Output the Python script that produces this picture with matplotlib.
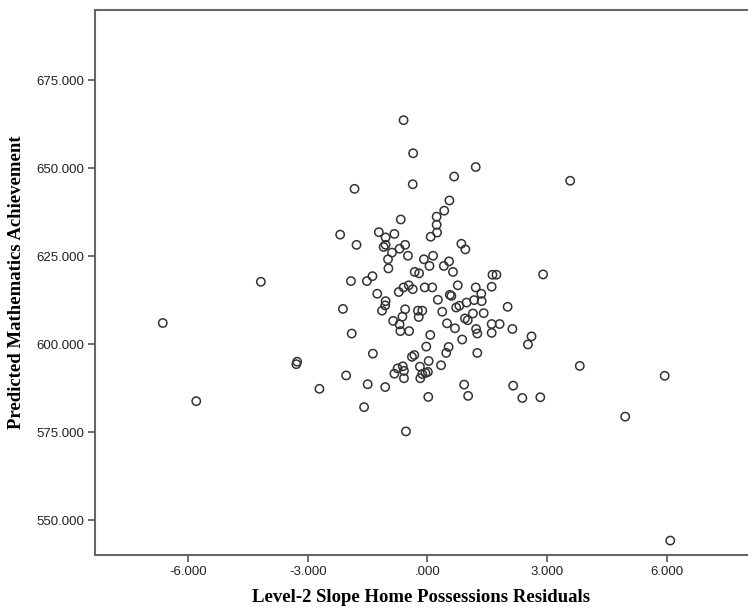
import numpy as np
import matplotlib
matplotlib.use("Agg")
import matplotlib.pyplot as plt
from matplotlib.ticker import FuncFormatter

# residuals (x) and predicted achievement (y)
slope_resid = [
    -6.64, -5.80, -4.18, -3.27, -3.29, -2.71, -2.12, -2.04, -2.19, -1.83,
    -1.78, -1.92, -1.90, -1.59, -1.50, -1.37, -1.52, -1.38, -1.26, -1.22,
    -1.05, -1.10, -1.05, -1.05, -1.06, -1.14, -1.06, -0.99, -0.98, -0.89,
    -0.83, -0.86, -0.72, -0.70, -0.68, -0.63, -0.56, -0.67, -0.70, -0.56,
    -0.60, -0.47, -0.37, -0.46, -0.49, -0.60, -0.36, -0.37, -0.54, -0.75,
    -0.62, -0.59, -0.83, -0.59, -0.33, -0.39, -0.32, -0.21, -0.24, -0.13,
    -0.22, -0.19, -0.18, -0.13, -0.05, 0.01, -0.09, 0.05, 0.14, -0.07,
    0.12, 0.07, -0.03, 0.03, 0.02, 0.08, 0.24, 0.23, 0.23, 0.42,
    0.55, 0.67, 1.21, 3.58, 0.54, 0.64, 0.41, 0.76, 0.56, 0.60,
    0.26, 0.37, 0.49, 0.69, 0.53, 0.47, 0.34, 0.72, 0.80, 0.98,
    1.17, 1.21, 0.94, 1.01, 1.14, 0.87, 1.22, 1.25, 1.25, 0.85,
    0.95, 1.35, 1.36, 1.41, 1.63, 1.73, 1.61, 2.01, 1.61, 1.81,
    1.61, 2.13, 2.61, 2.52, 2.90, 3.82, 0.92, 1.02, 2.15, 2.38,
    2.83, 4.96, 5.95, 6.09,
]
pred_math = [
    606.0, 583.8, 617.7, 595.0, 594.3, 587.3, 610.0, 591.1, 631.1, 644.1,
    628.2, 617.9, 603.0, 582.1, 588.6, 597.3, 617.9, 619.3, 614.3, 631.8,
    630.3, 627.6, 628.2, 612.2, 611.0, 609.5, 587.8, 624.1, 621.5, 626.0,
    631.3, 606.6, 614.8, 605.6, 603.7, 607.8, 609.9, 635.4, 627.1, 628.2,
    616.1, 616.7, 615.6, 603.7, 625.1, 663.6, 654.2, 645.4, 575.2, 593.1,
    593.7, 592.4, 591.6, 590.3, 596.9, 596.4, 620.5, 620.1, 609.5, 609.5,
    607.7, 593.6, 590.3, 591.5, 591.8, 592.1, 624.1, 622.2, 625.1, 616.1,
    616.1, 602.6, 599.3, 595.2, 585.0, 630.5, 631.7, 633.9, 636.2, 637.9,
    640.8, 647.6, 650.3, 646.4, 623.5, 620.5, 622.2, 616.7, 614.0, 613.7,
    612.6, 609.2, 605.9, 604.5, 599.2, 597.5, 594.0, 610.4, 610.9, 611.8,
    612.5, 616.1, 607.3, 606.8, 608.7, 601.3, 604.3, 603.0, 597.5, 628.5,
    626.9, 614.3, 612.2, 608.8, 619.7, 619.7, 616.3, 610.6, 605.7, 605.7,
    603.2, 604.3, 602.2, 599.9, 619.8, 593.8, 588.5, 585.3, 588.2, 584.7,
    584.9, 579.4, 591.0, 544.2,
]
x_ticks = [-6, -3, 0, 3, 6]
y_ticks = [550, 575, 600, 625, 650, 675]


def spss_fmt(v, pos):
    s = "%.3f" % v
    if s.startswith("0."):
        s = s[1:]
    elif s.startswith("-0."):
        s = "-" + s[2:]
    return s


W, H = 748, 612
fig = plt.figure(figsize=(W / 100, H / 100), dpi=100)
ax = fig.add_axes([95 / W, 1 - 555 / H, 1 - 95 / W, (555 - 10) / H])

ax.scatter(slope_resid, pred_math, s=36, facecolors="none",
           edgecolors="#333333", linewidths=1.1, zorder=3)

ax.set_xlim(-8.34, 8.04)
ax.set_ylim(540.1, 694.9)
ax.set_xticks(x_ticks)
ax.set_yticks(y_ticks)
ax.xaxis.set_major_formatter(FuncFormatter(spss_fmt))
ax.yaxis.set_major_formatter(FuncFormatter(spss_fmt))

for side in ["left", "bottom", "top"]:
    ax.spines[side].set_color("#666666")
    ax.spines[side].set_linewidth(1.5)
ax.spines["right"].set_visible(False)

ax.tick_params(direction="out", length=5, width=1.2, color="#555555",
               labelsize=9.5, labelcolor="#222222", pad=3)
for lab in ax.get_xticklabels() + ax.get_yticklabels():
    lab.set_family(["Liberation Sans", "DejaVu Sans"])

ax.set_xlabel("Level-2 Slope Home Possessions Residuals",
              family=["Liberation Serif", "DejaVu Serif"], fontweight="bold",
              fontsize=13.5, labelpad=8)
ax.set_ylabel("Predicted Mathematics Achievement",
              family=["Liberation Serif", "DejaVu Serif"], fontweight="bold",
              fontsize=13.5, labelpad=8)

fig.savefig("out.png", dpi=100, facecolor="white")
